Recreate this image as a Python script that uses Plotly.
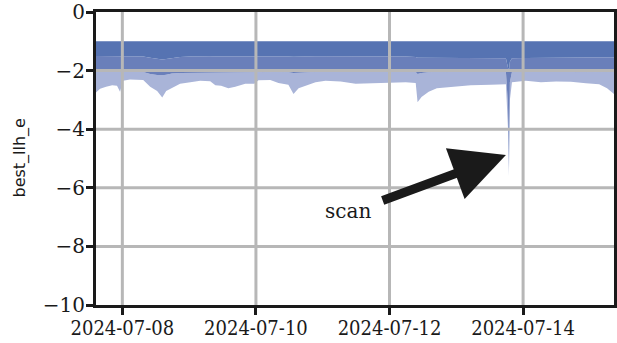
import plotly.graph_objects as go

times = [
    "2024-07-07 14:32", "2024-07-07 16:00", "2024-07-07 18:10", "2024-07-07 20:20",
    "2024-07-07 22:05", "2024-07-07 23:10", "2024-07-08 00:15", "2024-07-08 02:45",
    "2024-07-08 07:30", "2024-07-08 10:00", "2024-07-08 12:30", "2024-07-08 14:20",
    "2024-07-08 15:45", "2024-07-08 17:50", "2024-07-08 20:45", "2024-07-09 00:25",
    "2024-07-09 04:00", "2024-07-09 07:35", "2024-07-09 09:25", "2024-07-09 11:30",
    "2024-07-09 14:05", "2024-07-09 16:35", "2024-07-09 20:10", "2024-07-09 23:25",
    "2024-07-10 00:55", "2024-07-10 05:10", "2024-07-10 08:05", "2024-07-10 11:40",
    "2024-07-10 13:30", "2024-07-10 15:20", "2024-07-10 18:05", "2024-07-10 21:25",
    "2024-07-11 01:00", "2024-07-11 06:25", "2024-07-11 11:50", "2024-07-11 17:10",
    "2024-07-12 00:25", "2024-07-12 05:50", "2024-07-12 09:25", "2024-07-12 10:05",
    "2024-07-12 11:30", "2024-07-12 14:05", "2024-07-12 17:00", "2024-07-12 22:00",
    "2024-07-13 05:10", "2024-07-13 12:25", "2024-07-13 17:50", "2024-07-13 18:35",
    "2024-07-13 18:55", "2024-07-13 19:15", "2024-07-13 20:00", "2024-07-14 01:00",
    "2024-07-14 06:25", "2024-07-14 11:50", "2024-07-14 17:10", "2024-07-14 22:35",
    "2024-07-15 03:20", "2024-07-15 06:10", "2024-07-15 08:40",
]

# lower edge of the light band
low = [
    -2.75, -2.62, -2.55, -2.50, -2.52, -2.72, -2.35, -2.30,
    -2.32, -2.55, -2.70, -2.92, -2.70, -2.60, -2.45, -2.40,
    -2.35, -2.36, -2.50, -2.52, -2.60, -2.55, -2.45, -2.45,
    -2.33, -2.32, -2.42, -2.48, -2.80, -2.60, -2.52, -2.40,
    -2.35, -2.37, -2.45, -2.43, -2.42, -2.40, -2.42, -3.08,
    -2.90, -2.72, -2.60, -2.55, -2.50, -2.48, -2.47, -4.00,
    -5.60, -3.00, -2.40, -2.35, -2.40, -2.37, -2.38, -2.43,
    -2.47, -2.60, -2.80,
]

# boundary between medium band and light band
mid = [
    -2.02, -2.02, -2.02, -2.02, -2.03, -2.03, -2.03, -2.03,
    -2.05, -2.12, -2.15, -2.16, -2.14, -2.10, -2.08, -2.08,
    -2.07, -2.07, -2.08, -2.08, -2.08, -2.07, -2.07, -2.06,
    -2.05, -2.05, -2.06, -2.06, -2.08, -2.07, -2.06, -2.05,
    -2.05, -2.05, -2.05, -2.05, -2.05, -2.05, -2.05, -2.12,
    -2.08, -2.06, -2.05, -2.05, -2.05, -2.05, -2.05, -3.20,
    -5.40, -2.40, -2.05, -2.04, -2.04, -2.04, -2.04, -2.05,
    -2.05, -2.05, -2.06,
]

# boundary between dark band and medium band
dark = [
    -1.50, -1.50, -1.50, -1.50, -1.50, -1.50, -1.50, -1.50,
    -1.52, -1.56, -1.60, -1.62, -1.60, -1.57, -1.54, -1.52,
    -1.51, -1.51, -1.52, -1.52, -1.51, -1.51, -1.52, -1.52,
    -1.51, -1.50, -1.51, -1.52, -1.53, -1.52, -1.52, -1.51,
    -1.51, -1.51, -1.52, -1.52, -1.52, -1.52, -1.54, -1.56,
    -1.56, -1.56, -1.57, -1.57, -1.58, -1.58, -1.58, -1.90,
    -2.00, -1.70, -1.58, -1.57, -1.56, -1.56, -1.55, -1.55,
    -1.55, -1.55, -1.55,
]

# upper edge of the dark band
top = [-1.0] * len(times)

x_ticks = ["2024-07-08", "2024-07-10", "2024-07-12", "2024-07-14"]
x_tick_text = ["2024-07-08", "2024-07-10", "2024-07-12", "2024-07-14"]
y_ticks = [0, -2, -4, -6, -8, -10]
y_tick_text = ["0", "\u22122", "\u22124", "\u22126", "\u22128", "\u221210"]

C_LIGHT = "#a9b4d8"
C_MED = "#6a7fba"
C_DARK = "#5673b2"
GRID = "#b7b7b7"
SERIF_C = "DejaVu Serif Condensed"
SERIF = "DejaVu Serif"

fig = go.Figure()
fig.add_trace(go.Scatter(x=times, y=low, mode="lines", line=dict(width=0),
                         showlegend=False, hoverinfo="skip"))
fig.add_trace(go.Scatter(x=times, y=mid, mode="lines", line=dict(width=0),
                         fill="tonexty", fillcolor=C_LIGHT, showlegend=False))
fig.add_trace(go.Scatter(x=times, y=dark, mode="lines", line=dict(width=0),
                         fill="tonexty", fillcolor=C_MED, showlegend=False))
fig.add_trace(go.Scatter(x=times, y=top, mode="lines", line=dict(width=0),
                         fill="tonexty", fillcolor=C_DARK, showlegend=False))

# gridlines drawn above the filled bands (as in the reference)
for t in x_ticks:
    fig.add_shape(type="line", xref="x", yref="paper", x0=t, x1=t, y0=0, y1=1,
                  line=dict(color=GRID, width=3), layer="above")
for v in y_ticks[1:-1]:
    fig.add_shape(type="line", xref="paper", yref="y", x0=0, x1=1, y0=v, y1=v,
                  line=dict(color=GRID, width=3), layer="above")

fig.add_annotation(x="2024-07-13 17:50", y=-4.88, ax="2024-07-11 21:00", ay=-6.45,
                   xref="x", yref="y", axref="x", ayref="y", text="",
                   showarrow=True, arrowhead=2, arrowsize=1.2, arrowwidth=9,
                   arrowcolor="#1a1a1a")
fig.add_annotation(x="2024-07-11 09:00", y=-6.8, xref="x", yref="y", text="scan",
                   showarrow=False, font=dict(family=SERIF, size=20, color="#1a1a1a"))
# y-axis title
fig.add_annotation(x=-0.1486, y=0.5, xref="paper", yref="paper", text="best_llh_e",
                   textangle=-90, showarrow=False, xanchor="center", yanchor="middle",
                   font=dict(family="DejaVu Sans", size=16, color="#1a1a1a"))

fig.update_layout(
    width=617, height=343,
    margin=dict(l=96, r=3, t=12, b=38),
    plot_bgcolor="white", paper_bgcolor="white",
    font=dict(family=SERIF, size=20, color="#1a1a1a"),
)
fig.update_xaxes(
    type="date", range=["2024-07-07 14:32", "2024-07-15 08:40"],
    tickvals=x_ticks, ticktext=x_tick_text, showgrid=False,
    showline=True, linecolor="#1a1a1a", linewidth=3, mirror=True,
    ticks="outside", ticklen=7, tickwidth=3, tickcolor="#1a1a1a", zeroline=False,
    tickfont=dict(family=SERIF_C, size=20), ticklabeloverflow="allow", automargin=False,
    ticklabelstandoff=-4,
)
fig.update_yaxes(
    range=[-10, 0], tickvals=y_ticks, ticktext=y_tick_text, showgrid=False,
    showline=True, linecolor="#1a1a1a", linewidth=3, mirror=True,
    ticks="outside", ticklen=7, tickwidth=3, tickcolor="#1a1a1a", zeroline=False,
    tickfont=dict(family=SERIF, size=20), ticklabeloverflow="allow", automargin=False,
    ticklabelstandoff=-3,
)

fig.write_html("out.html")
